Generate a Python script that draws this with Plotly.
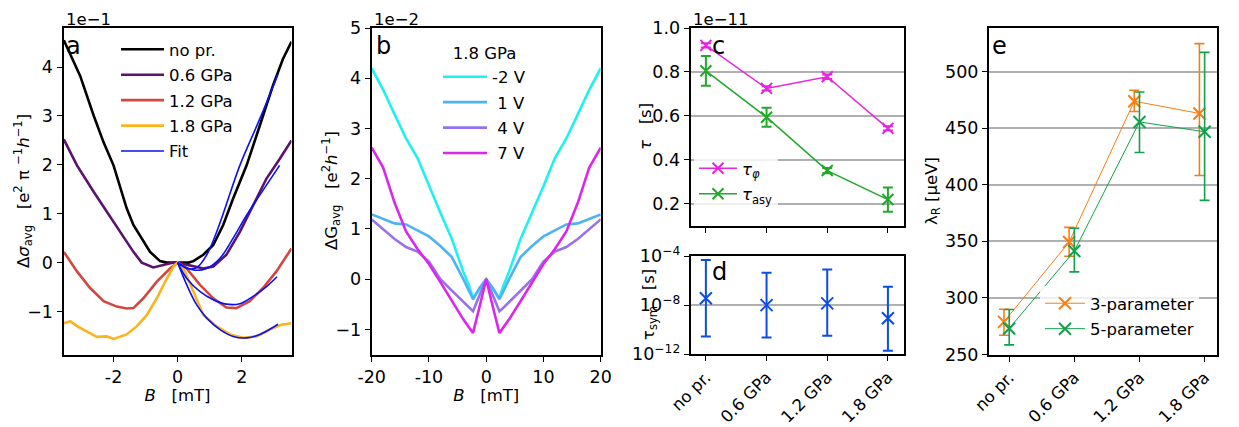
import plotly.graph_objects as go

W, H = 1239, 427          # browser window
OFF = 8                   # default body margin of the page
FW, FH = W - OFF, H - OFF # figure size
FONT = "DejaVu Sans"
FS = 16.5
TFS = 17.5
NB = "\u00a0"

# ---------------- Panel a data (units of 1e-1) ----------------
A_B_NOPR = [-3.55, -3.04, -2.62, -2.31, -2.0, -1.74, -1.59, -1.38, -1.12, -0.86, -0.55, -0.34, 0,
            0.34, 0.49, 0.8, 1.11, 1.42, 1.73, 2.15, 2.56, 2.97, 3.28, 3.55]
A_Y_NOPR = [4.55, 3.82, 3.01, 2.46, 1.99, 1.45, 1.11, 0.77, 0.50, 0.22, 0.03, 0.0, 0,
            0.0, 0.03, 0.16, 0.36, 0.77, 1.31, 1.99, 2.80, 3.62, 4.16, 4.52]
A_B_06 = [-3.55, -3.14, -2.62, -2.21, -1.79, -1.38, -1.12, -0.76, -0.45, -0.13, 0,
          0.38, 0.8, 1.11, 1.52, 1.94, 2.35, 2.77, 3.18, 3.55]
A_Y_06 = [2.52, 1.99, 1.45, 1.04, 0.63, 0.22, 0.0, -0.10, -0.05, 0.0, 0,
          -0.05, -0.12, -0.08, 0.16, 0.63, 1.17, 1.72, 2.12, 2.50]
A_B_12 = [-3.55, -3.14, -2.73, -2.31, -1.90, -1.59, -1.38, -1.07, -0.65, -0.24, 0,
          0.28, 0.69, 1.11, 1.52, 1.83, 2.25, 2.66, 3.08, 3.55]
A_Y_12 = [0.22, -0.18, -0.52, -0.79, -0.90, -0.94, -0.93, -0.73, -0.39, -0.12, 0,
          -0.12, -0.45, -0.73, -0.92, -0.93, -0.79, -0.52, -0.18, 0.29]
A_B_18 = [-3.55, -3.35, -3.14, -2.83, -2.52, -2.21, -2.0, -1.59, -1.27, -0.96, -0.65, -0.39, -0.13, 0,
          0.18, 0.49, 0.80, 1.21, 1.63, 2.04, 2.46, 2.87, 3.23, 3.55]
A_Y_18 = [-1.24, -1.20, -1.30, -1.41, -1.52, -1.51, -1.56, -1.47, -1.30, -1.07, -0.73, -0.39, -0.08, 0,
          -0.12, -0.59, -1.07, -1.30, -1.47, -1.54, -1.51, -1.37, -1.27, -1.24]

FIT_B_NOPR = [0, 0.3, 0.6, 0.9, 1.2, 1.42, 1.94, 2.56, 3.13]
FIT_Y_NOPR = [0, -0.12, -0.10, 0.15, 0.60, 1.0, 1.99, 2.94, 3.86]
FIT_B_06 = [0, 0.49, 0.9, 1.32, 1.73, 2.15, 2.56, 3.18]
FIT_Y_06 = [0, -0.15, -0.12, 0.09, 0.50, 0.97, 1.38, 1.99]
FIT_B_12 = [0, 0.28, 0.69, 1.11, 1.52, 1.94, 2.35, 2.77, 3.10]
FIT_Y_12 = [0, -0.32, -0.59, -0.76, -0.85, -0.84, -0.69, -0.49, -0.29]
FIT_B_18 = [0, 0.28, 0.59, 0.9, 1.32, 1.73, 2.15, 2.56, 3.13]
FIT_Y_18 = [0, -0.45, -0.86, -1.13, -1.37, -1.51, -1.54, -1.47, -1.26]

A_NAMES = ["no pr.", "0.6 GPa", "1.2 GPa", "1.8 GPa"]
A_COLORS = ["#000000", "#5c136e", "#d2483f", "#fbb41d"]
FIT_COLOR = "#0a10f5"

# ---------------- Panel b data (units of 1e-2) ----------------
B_B = [-20, -18, -16, -14, -12, -10, -8, -6, -4, -3, -2.3, -1.2, 0,
       1.2, 2.3, 3, 4, 6, 8, 10, 12, 14, 16, 18, 20]
B_M2V = [4.2, 3.77, 3.28, 2.8, 2.41, 1.85, 1.32, 0.8, 0.15, -0.13, -0.38, -0.2, 0,
         -0.2, -0.38, -0.13, 0.15, 0.8, 1.32, 1.85, 2.41, 2.8, 3.28, 3.77, 4.2]
B_1V = [1.29, 1.20, 1.11, 1.09, 0.97, 0.85, 0.66, 0.44, 0.0, -0.24, -0.40, -0.18, 0,
        -0.18, -0.40, -0.24, 0.0, 0.44, 0.66, 0.85, 0.97, 1.09, 1.11, 1.20, 1.29]
B_4V = [1.19, 1.0, 0.8, 0.64, 0.55, 0.35, 0.0, -0.23, -0.45, -0.57, -0.64, -0.33, 0,
        -0.33, -0.64, -0.57, -0.45, -0.23, 0.0, 0.35, 0.55, 0.64, 0.8, 1.0, 1.19]
B_7V = [2.62, 2.22, 1.52, 0.95, 0.6, 0.3, -0.06, -0.44, -0.8, -0.96, -1.07, -0.57, 0,
        -0.57, -1.07, -0.96, -0.8, -0.44, -0.06, 0.3, 0.6, 0.95, 1.52, 2.22, 2.62]
B_NAMES = ["-2 V", NB + "1 V", NB + "4 V", NB + "7 V"]
B_COLORS = ["#1ff0f0", "#4eb2f7", "#9772f0", "#dc26ee"]

# ---------------- Panels c, d, e ----------------
CATS = ["no pr.", "0.6 GPa", "1.2 GPa", "1.8 GPa"]
IDX = [0, 1, 2, 3]

TAU_PHI = [0.921, 0.725, 0.778, 0.543]           # units 1e-11 s
TAU_PHI_ERR = [0.01, 0.01, 0.01, 0.01]
TAU_ASY = [0.805, 0.594, 0.351, 0.219]
TAU_ASY_ERR = [0.068, 0.043, 0.012, 0.055]

TAU_SYM = [3.6e-8, 1.0e-8, 1.4e-8, 8.5e-10]
TAU_SYM_HI = [4.8e-5, 4.4e-6, 7.8e-6, 3.2e-7]
TAU_SYM_LO = [2.8e-11, 2.3e-11, 3.3e-11, 1.9e-12]

LAM3 = [278.8, 349.4, 473.8, 463.0]
LAM3_HI = [290.0, 362.3, 483.5, 524.7]
LAM3_LO = [267.0, 336.8, 464.7, 408.2]
LAM5 = [273.0, 341.4, 455.5, 446.8]
LAM5_HI = [289.7, 361.5, 482.0, 517.0]
LAM5_LO = [258.5, 323.0, 428.5, 386.2]

C_MAG = "#e825e0"
C_GRN = "#22a82a"
D_BLUE = "#0a4ee6"
E_ORA = "#f77d14"
E_GRN = "#12a04c"
ORANGE_SHIFT = -0.08


def px_x(p):
    return (p - OFF) / FW


def px_y(p):
    return 1 - (p - OFF) / FH


fig = go.Figure()

# Panel a
a_sets = [(A_B_NOPR, A_Y_NOPR), (A_B_06, A_Y_06), (A_B_12, A_Y_12), (A_B_18, A_Y_18)]
for (bx, by), nm, col in zip(a_sets, A_NAMES, A_COLORS):
    fig.add_trace(go.Scatter(x=bx, y=by, mode="lines", name=nm, legendgroup=nm,
                             line=dict(color=col, width=2.6), xaxis="x", yaxis="y",
                             legend="legend"))
fits = [(FIT_B_NOPR, FIT_Y_NOPR), (FIT_B_06, FIT_Y_06), (FIT_B_12, FIT_Y_12), (FIT_B_18, FIT_Y_18)]
for i, (fx, fy) in enumerate(fits):
    fig.add_trace(go.Scatter(x=fx, y=fy, mode="lines", name="Fit", legendgroup="Fit",
                             showlegend=(i == 0), line=dict(color=FIT_COLOR, width=1.6, shape="spline"),
                             xaxis="x", yaxis="y", legend="legend"))

# Panel b
for ys, nm, col in zip([B_M2V, B_1V, B_4V, B_7V], B_NAMES, B_COLORS):
    fig.add_trace(go.Scatter(x=B_B, y=ys, mode="lines", name=nm, legendgroup="b" + nm,
                             line=dict(color=col, width=2.6), xaxis="x2", yaxis="y2",
                             legend="legend2"))


def mk(col, size=11):
    return dict(symbol="x-thin", size=size, color=col, line=dict(width=2, color=col))


# Panel c
fig.add_trace(go.Scatter(x=IDX, y=TAU_PHI, mode="lines+markers", name="<i>τ</i><sub><i>φ</i></sub>",
                         legendgroup="phi", line=dict(color=C_MAG, width=1.5), marker=mk(C_MAG),
                         error_y=dict(type="data", array=TAU_PHI_ERR, color=C_MAG, thickness=2, width=5),
                         xaxis="x3", yaxis="y3", legend="legend3"))
fig.add_trace(go.Scatter(x=IDX, y=TAU_ASY, mode="lines+markers", name="<i>τ</i><sub>asy</sub>",
                         legendgroup="asy", line=dict(color=C_GRN, width=1.5), marker=mk(C_GRN),
                         error_y=dict(type="data", array=TAU_ASY_ERR, color=C_GRN, thickness=2, width=5),
                         xaxis="x3", yaxis="y3", legend="legend3"))

# Panel d
fig.add_trace(go.Scatter(x=IDX, y=TAU_SYM, mode="markers", showlegend=False, marker=mk(D_BLUE, 12),
                         error_y=dict(type="data", symmetric=False,
                                      array=[h - c for h, c in zip(TAU_SYM_HI, TAU_SYM)],
                                      arrayminus=[c - l for c, l in zip(TAU_SYM, TAU_SYM_LO)],
                                      color=D_BLUE, thickness=2, width=5),
                         xaxis="x4", yaxis="y4"))

# Panel e
fig.add_trace(go.Scatter(x=[i + ORANGE_SHIFT for i in IDX], y=LAM3, mode="lines+markers", name="3-parameter",
                         legendgroup="p3", line=dict(color=E_ORA, width=1), marker=mk(E_ORA, 12),
                         error_y=dict(type="data", symmetric=False,
                                      array=[h - c for h, c in zip(LAM3_HI, LAM3)],
                                      arrayminus=[c - l for c, l in zip(LAM3, LAM3_LO)],
                                      color=E_ORA, thickness=1.6, width=5),
                         xaxis="x5", yaxis="y5", legend="legend4"))
fig.add_trace(go.Scatter(x=IDX, y=LAM5, mode="lines+markers", name="5-parameter",
                         legendgroup="p5", line=dict(color=E_GRN, width=1), marker=mk(E_GRN, 12),
                         error_y=dict(type="data", symmetric=False,
                                      array=[h - c for h, c in zip(LAM5_HI, LAM5)],
                                      arrayminus=[c - l for c, l in zip(LAM5, LAM5_LO)],
                                      color=E_GRN, thickness=1.6, width=5),
                         xaxis="x5", yaxis="y5", legend="legend4"))

tickfont = dict(family=FONT, size=TFS, color="black")
rotfont = dict(family=FONT, size=FS, color="black")
base_axis = dict(showline=True, linewidth=2, linecolor="black", mirror=True, ticks="outside",
                 ticklen=5, tickwidth=1.3, tickcolor="black", zeroline=False, showgrid=False,
                 tickfont=tickfont, automargin=False)
GRID = dict(showgrid=True, gridcolor="#b0b0b0", gridwidth=1.5)

dom_a = [px_x(63.5), px_x(291.5)]
dom_b = [px_x(371.7), px_x(600.7)]
dom_c = [px_x(690.7), px_x(904.3)]
dom_e = [px_x(989), px_x(1217)]
dom_y_full = [px_y(354.5), px_y(28)]
dom_y_c = [px_y(225.7), px_y(28)]
dom_y_d = [px_y(354.3), px_y(256)]

title_font = dict(family=FONT, size=FS, color="black")
B_title = "<i>B</i>" + NB * 3 + "[mT]"
leg_font = dict(family=FONT, size=FS, color="black")

fig.update_layout(
    template="none",
    width=FW, height=FH, margin=dict(l=0, r=0, t=0, b=0, autoexpand=False),
    plot_bgcolor="white", paper_bgcolor="white",
    font=dict(family=FONT, size=FS, color="black"),
    xaxis=dict(base_axis, domain=dom_a, anchor="y", range=[-3.56, 3.55],
               tickvals=[-2, 0, 2], ticktext=["-2", "0", "2"],
               title=dict(text=B_title, font=title_font, standoff=4)),
    yaxis=dict(base_axis, domain=dom_y_full, anchor="x", range=[-1.88, 4.8],
               tickvals=[-1, 0, 1, 2, 3, 4], ticktext=["−1", "0", "1", "2", "3", "4"]),
    xaxis2=dict(base_axis, domain=dom_b, anchor="y2", range=[-20, 20],
                tickvals=[-20, -10, 0, 10, 20], ticktext=["-20", "-10", "0", "10", "20"],
                title=dict(text=B_title, font=title_font, standoff=4)),
    yaxis2=dict(base_axis, domain=dom_y_full, anchor="x2", range=[-1.5, 5],
                tickvals=[-1, 0, 1, 2, 3, 4, 5], ticktext=["−1", "0", "1", "2", "3", "4", "5"]),
    xaxis3=dict(base_axis, domain=dom_c, anchor="y3", range=[-0.25, 3.27],
                tickvals=IDX, showticklabels=False),
    yaxis3=dict(base_axis, **GRID, domain=dom_y_c, anchor="x3", range=[0.1, 1.0],
                tickvals=[0.2, 0.4, 0.6, 0.8, 1.0], ticktext=["0.2", "0.4", "0.6", "0.8", "1.0"]),
    xaxis4=dict(base_axis, domain=dom_c, anchor="y4", range=[-0.25, 3.27],
                tickvals=IDX, ticktext=CATS, tickangle=-45, tickfont=rotfont),
    yaxis4=dict(base_axis, **GRID, domain=dom_y_d, anchor="x4", type="log", range=[-12, -4],
                tickvals=[1e-12, 1e-8, 1e-4],
                ticktext=["10<sup>−12</sup>", "10<sup>−8</sup>", "10<sup>−4</sup>"]),
    xaxis5=dict(base_axis, domain=dom_e, anchor="y5", range=[-0.31, 3.19],
                tickvals=IDX, ticktext=CATS, tickangle=-45, tickfont=rotfont),
    yaxis5=dict(base_axis, **GRID, domain=dom_y_full, anchor="x5", range=[250, 538.5],
                tickvals=[250, 300, 350, 400, 450, 500]),
    legend=dict(x=px_x(116), y=px_y(32), xanchor="left", yanchor="top", bgcolor="rgba(255,255,255,0)",
                font=leg_font, tracegroupgap=1, itemwidth=43),
    legend2=dict(x=px_x(438), y=px_y(38), xanchor="left", yanchor="top", bgcolor="rgba(255,255,255,0)",
                 font=leg_font, tracegroupgap=1, itemwidth=44,
                 title=dict(text="1.8 GPa", side="top center", font=leg_font)),
    legend3=dict(x=px_x(694), y=px_y(151), xanchor="left", yanchor="top", bgcolor="rgba(255,255,255,0.8)",
                 font=leg_font, tracegroupgap=1, itemwidth=38),
    legend4=dict(x=px_x(1040), y=px_y(286), xanchor="left", yanchor="top", bgcolor="rgba(255,255,255,0.8)",
                 font=leg_font, tracegroupgap=1, itemwidth=40),
)

annos = []
# panel letters
for lbl, xl, yt in [("a", 64, 30), ("b", 374, 30), ("c", 710, 30), ("d", 710, 256), ("e", 990, 30)]:
    annos.append(dict(text=lbl, x=px_x(xl), y=px_y(yt), xref="paper", yref="paper",
                      xanchor="left", yanchor="top", showarrow=False,
                      font=dict(family=FONT, size=24, color="black")))
# offset (scale) labels
for txt, xl in [("1e−1", 63.5), ("1e−2", 371.7), ("1e−11", 690.7)]:
    annos.append(dict(text=txt, x=px_x(xl), y=px_y(31), xref="paper", yref="paper",
                      xanchor="left", yanchor="bottom", showarrow=False,
                      font=dict(family=FONT, size=FS, color="black")))
# y-axis titles
ytitles = [
    ("Δ<i>σ</i><sub>avg</sub>" + NB * 3 + "[e<sup>2</sup> π <sup>−1</sup><i>h</i><sup>−1</sup>]", 23, 191),
    ("ΔG<sub>avg</sub>" + NB * 3 + "[e<sup>2</sup><i>h</i><sup>−1</sup>]", 331, 191),
    ("<i>τ</i>" + NB * 3 + "[s]", 645, 127),
    ("τ<sub>sym</sub>" + NB * 3 + "[s]", 649, 305),
    ("λ<sub>R</sub> [µeV]", 932, 191),
]
for txt, xc, yc in ytitles:
    annos.append(dict(text=txt, x=px_x(xc), y=px_y(yc), xref="paper", yref="paper",
                      xanchor="center", yanchor="middle", textangle=-90, showarrow=False,
                      font=title_font))
fig.update_layout(annotations=annos)

fig.write_html("out.html")
